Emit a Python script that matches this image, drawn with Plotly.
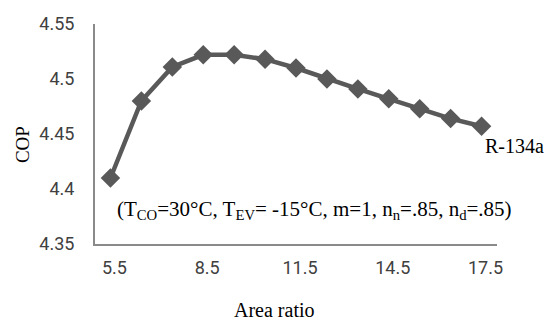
import plotly.graph_objects as go

area_ratio = [5.5, 6.5, 7.5, 8.5, 9.5, 10.5, 11.5, 12.5, 13.5, 14.5, 15.5, 16.5, 17.5]
cop = [4.41, 4.48, 4.511, 4.522, 4.522, 4.518, 4.51, 4.50, 4.491, 4.482, 4.473, 4.464, 4.457]
x_ticks = [5.5, 8.5, 11.5, 14.5, 17.5]
y_ticks = [4.35, 4.4, 4.45, 4.5, 4.55]
y_tick_labels = ["4.35", "4.4", "4.45", "4.5", "4.55"]

fig = go.Figure()
fig.add_trace(go.Scatter(
    x=area_ratio, y=cop, mode="lines+markers",
    line=dict(color="#595959", width=4.5),
    marker=dict(symbol="diamond", size=15, color="#595959"),
    showlegend=False, cliponaxis=False,
))

axis_line = "#8a8a8a"
# page body has an 8px default margin, so the figure is sized to the visible area
fig.update_layout(
    width=544, height=312,
    margin=dict(l=87, r=55, t=16, b=76, autoexpand=False),
    paper_bgcolor="white", plot_bgcolor="white",
    xaxis=dict(range=[5, 18], tickvals=x_ticks, ticktext=[str(v) for v in x_ticks],
               showline=True, linecolor=axis_line, linewidth=2, showgrid=False,
               zeroline=False, ticks="", ticklabelstandoff=6, automargin=False,
               ticklabelshift=4,
               tickfont=dict(family="Roboto", size=18, color="#404040")),
    yaxis=dict(range=[4.35, 4.55], tickvals=y_ticks, ticktext=y_tick_labels,
               showline=True, linecolor=axis_line, linewidth=2, showgrid=False,
               zeroline=False, ticks="", ticklabelstandoff=15, automargin=False,
               tickfont=dict(family="Roboto", size=18, color="#404040")),
    annotations=[
        dict(text="COP", xref="paper", yref="paper", x=-0.1816, y=0.454,
             textangle=-90, showarrow=False, xanchor="center", yanchor="middle",
             font=dict(family="Liberation Serif", size=19, color="black")),
        dict(text="Area ratio", xref="paper", yref="paper", x=0.4465, y=-0.30,
             showarrow=False, xanchor="center", yanchor="middle",
             font=dict(family="Liberation Serif", size=20, color="black")),
        dict(text="(T<sub>CO</sub>=30°C, T<sub>EV</sub>= -15°C, m=1, n<sub>n</sub>=.85, n<sub>d</sub>=.85)",
             xref="paper", yref="paper", x=0.545, y=0.155,
             showarrow=False, xanchor="center", yanchor="middle",
             font=dict(family="Liberation Serif", size=21, color="black")),
        dict(text="R-134a", xref="paper", yref="paper", x=0.965, y=0.445,
             showarrow=False, xanchor="left", yanchor="middle",
             font=dict(family="Liberation Serif", size=20, color="black")),
    ],
)

fig.write_html("out.html")
